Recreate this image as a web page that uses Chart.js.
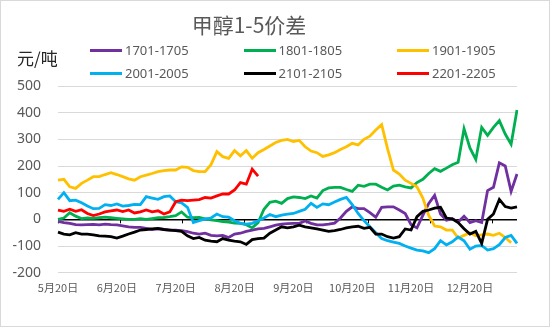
<!DOCTYPE html>
<html>
<head>
<meta charset="utf-8">
<script src="https://cdn.jsdelivr.net/npm/chart.js@4"></script>
<style>
  body { margin: 0; background: #fff; }
  #wrap { position: relative; width: 550px; height: 327px; font-family: "Noto Sans CJK SC", "Noto Sans", sans-serif; }
  #frame { position: absolute; left: 0; top: 0; width: 548px; height: 325px; border: 1px solid #d9d9d9; pointer-events: none; }
  #title { position: absolute; left: 0; top: 10px; width: 498px; text-align: center; font-size: 21px; line-height: 28px; color: #595959; }
  #unit { position: absolute; left: 17px; top: 47px; font-size: 17px; line-height: 22px; color: #262626; }
  .item { position: absolute; font-family: "Noto Sans", sans-serif; font-size: 13px; line-height: 16px; color: #595959; white-space: nowrap; }
  .item i { display: inline-block; width: 32px; height: 3px; vertical-align: middle; margin-right: 3px; margin-top: -2px; }
  canvas { position: absolute; left: 0; top: 0; }
</style>
</head>
<body>
<div id="wrap">
  <canvas id="Chart1" width="550" height="327"></canvas>
  <div id="title">甲醇1-5价差</div>
  <div id="unit">元/吨</div>
  <div id="legend"></div>
  <div id="frame"></div>
</div>
<script>
// one label every 10 points
const tickLabels = ['5月20日', '6月20日', '7月20日', '8月20日', '9月20日', '10月20日', '11月20日', '12月20日'];
const tickEvery = 10;
const pointCount = 79;

const seriesNames = ['1701-1705', '1801-1805', '1901-1905', '2001-2005', '2101-2105', '2201-2205'];
const seriesColors = ['#7030A0', '#00B050', '#FFC000', '#00B0F0', '#000000', '#FF0000'];

const s1701 = [-8, -12, -15, -20, -21, -20, -19, -21, -18, -20,
  -21, -24, -28, -30, -30, -34, -38, -36, -38, -40,
  -40, -42, -46, -52, -55, -52, -60, -62, -60, -68,
  -55, -52, -45, -40, -36, -34, -28, -22, -18, -16,
  -15, -15, -6, -15, -21, -21, -18, -14, 5, 30,
  47, 40, 40, 25, 8, 45, 47, 47, 35, 22,
  -20, -32, 15, 60, 90, 20, -3, 2, -10, 12,
  -12, -5, -12, 108, 120, 212, 200, 105, 170];
const s1801 = [0, 5, 25, 12, 3, 5, 4, 6, 8, 6,
  4, 2, 0, 0, 3, 0, 3, 6, 7, 10,
  14, 28, 8, 6, 7, 2, -2, -5, -8, -10,
  -14, -15, -20, -32, -12, 38, 64, 68, 60, 78,
  84, 82, 78, 88, 80, 108, 118, 120, 120, 112,
  105, 128, 124, 132, 132, 120, 110, 125, 128, 122,
  118, 138, 150, 172, 190, 180, 192, 205, 214, 340,
  268, 225, 345, 315, 345, 370, 320, 282, 410];
const s1901 = [147, 150, 122, 116, 135, 147, 160, 160, 168, 175,
  168, 160, 152, 147, 160, 166, 172, 179, 183, 185,
  185, 197, 195, 183, 179, 179, 205, 254, 235, 229,
  258, 238, 258, 229, 250, 262, 275, 288, 296, 300,
  292, 296, 272, 256, 250, 236, 242, 250, 262, 272,
  285, 279, 300, 312, 335, 355, 265, 185, 170, 147,
  135, 122, 80, 15, -25, -28, -40, -40, -70, -60,
  -50, -62, -58, -55, -60, -52, -68, -88];
const s2001 = [75, 100, 70, 72, 62, 50, 40, 41, 55, 52,
  58, 50, 52, 56, 55, 85, 80, 75, 85, 88,
  66, 62, 45, -12, -5, 2, 5, 20, 10, 8,
  -5, -15, -18, -15, -5, 5, 18, 10, 16, 20,
  22, 30, 38, 60, 45, 58, 55, 65, 75, 82,
  55, 22, -5, -28, -50, -72, -80, -85, -90, -100,
  -108, -115, -118, -125, -110, -80, -96, -84, -66, -80,
  -112, -100, -98, -115, -110, -95, -68, -60, -90];
const s2101 = [-48, -55, -58, -50, -55, -55, -58, -62, -63, -65,
  -70, -63, -55, -48, -40, -38, -36, -34, -38, -40,
  -42, -45, -62, -72, -68, -78, -82, -84, -72, -78,
  -82, -84, -94, -76, -72, -70, -52, -40, -28, -32,
  -28, -22, -28, -32, -36, -40, -45, -42, -38, -32,
  -28, -26, -34, -30, -55, -55, -65, -70, -65, -36,
  -40, 10, 30, 35, 42, 45, 5, 2, -12, -35,
  -55, -45, -90, 0, 20, 75, 48, 42, 47];
const s2201 = [35, 30, 38, 30, 36, 22, 14, 20, 28, 32,
  35, 29, 35, 24, 28, 35, 28, 32, 20, 28,
  66, 72, 70, 72, 74, 82, 80, 88, 95, 95,
  110, 138, 132, 188, 162];

const seriesData = [s1701, s1801, s1901, s2001, s2101, s2201];

const labels = [];
for (let i = 0; i < pointCount; i++) {
  labels.push(i % tickEvery === 0 && tickLabels[i / tickEvery] ? tickLabels[i / tickEvery] : '');
}

const datasets = seriesNames.map(function (name, i) {
  return {
    label: name,
    data: seriesData[i],
    borderColor: seriesColors[i],
    backgroundColor: seriesColors[i],
    borderWidth: 2.8,
    pointRadius: 0,
    tension: 0,
    fill: false,
    order: seriesNames.length - i   // later series on top, like excel
  };
});

// little tick marks on the zero line
const tickStep = 10.54;
const zeroTicks = {
  id: 'zeroTicks',
  beforeDatasetsDraw(chart) {
    const xs = chart.scales.x, ys = chart.scales.y;
    const y0 = ys.getPixelForValue(0);
    const ctx = chart.ctx;
    ctx.save();
    ctx.strokeStyle = '#000';
    ctx.lineWidth = 1;
    for (let k = 0; k * tickStep <= pointCount - 1; k++) {
      const x = Math.round(xs.getPixelForValue(k * tickStep)) + 0.5;
      ctx.beginPath();
      ctx.moveTo(x, y0);
      ctx.lineTo(x, y0 + 4);
      ctx.stroke();
    }
    ctx.restore();
  }
};

const config1 = {
  type: 'line',
  data: { labels: labels, datasets: datasets },
  options: {
    responsive: false,
    animation: false,
    layout: { padding: { top: 86, right: 33, bottom: 0, left: 0 } },
    scales: {
      x: {
        grid: { display: false, drawTicks: false },
        border: { display: false },
        ticks: {
          autoSkip: false,
          maxRotation: 0,
          minRotation: 0,
          padding: 9,
          color: '#595959',
          font: { family: '"Noto Sans CJK SC", sans-serif', size: 11 }
        },
        afterFit: function (scale) { scale.height = 54.3; }
      },
      y: {
        min: -200,
        max: 500,
        ticks: {
          stepSize: 100,
          padding: 17,
          color: '#595959',
          font: { family: '"Noto Sans", sans-serif', size: 14 }
        },
        grid: {
          drawTicks: false,
          color: function (c) { return c.tick.value === 0 ? '#000000' : '#d9d9d9'; },
          lineWidth: function (c) { return c.tick.value === 0 ? 1.5 : 1; }
        },
        border: { display: false },
        afterFit: function (scale) { scale.width = 58; }
      }
    },
    plugins: {
      legend: { display: false },
      tooltip: { enabled: false }
    }
  },
  plugins: [zeroTicks]
};

var myChart1 = new Chart(document.getElementById('Chart1'), config1);

// legend laid out as 3 columns x 2 rows
const legendBox = document.getElementById('legend');
seriesNames.forEach(function (name, i) {
  const col = i % 3, row = Math.floor(i / 3);
  const el = document.createElement('div');
  el.className = 'item';
  el.style.left = (90 + col * 153.5) + 'px';
  el.style.top = (42 + row * 23) + 'px';
  el.innerHTML = '<i style="background:' + seriesColors[i] + '"></i>' + name;
  legendBox.appendChild(el);
});
</script>
</body>
</html>
